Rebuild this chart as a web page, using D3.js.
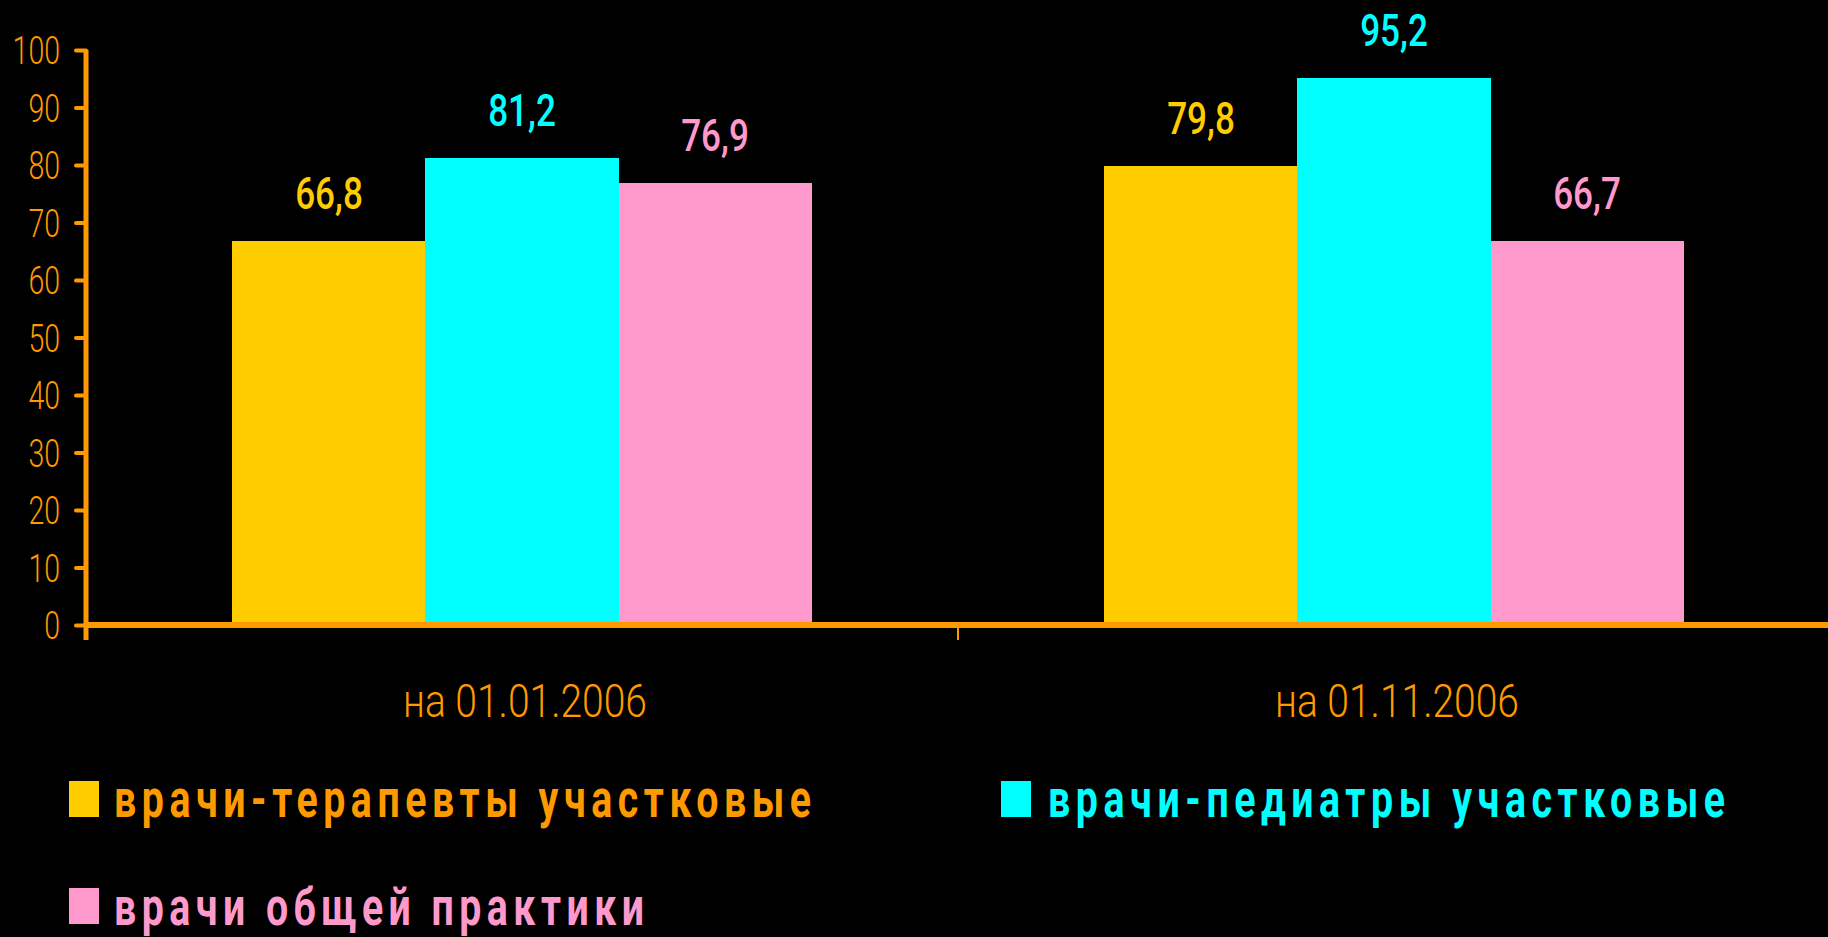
<!DOCTYPE html>
<html>
<head>
<meta charset="utf-8">
<script src="https://cdn.jsdelivr.net/npm/d3@7"></script>
<style>
  html, body { margin: 0; padding: 0; background: #000; }
  svg { display: block; }
</style>
</head>
<body>
<svg id="chart" width="1828" height="937"></svg>
<script>
// ---- data ----
const categories = ["на 01.01.2006", "на 01.11.2006"];
const seriesNames = ["врачи-терапевты участковые", "врачи-педиатры участковые", "врачи общей практики"];
const therapists = [66.8, 79.8];
const pediatricians = [81.2, 95.2];
const generalPractice = [76.9, 66.7];
const yTicks = [0, 10, 20, 30, 40, 50, 60, 70, 80, 90, 100];

// ---- styles ----
const barColors = ["#FFCC00", "#00FFFF", "#FF99CC"];
const legendTextColors = ["#FF9900", "#00FFFF", "#FF99CC"];
const axisColor = "#FF9900";

const seriesValues = [therapists, pediatricians, generalPractice];
const rows = [];
categories.forEach((c, ci) => {
  seriesNames.forEach((s, si) => rows.push({ cat: c, series: s, si, value: seriesValues[si][ci] }));
});

const svg = d3.select("#chart");
svg.append("rect").attr("width", 1828).attr("height", 937).attr("fill", "#000");

const y = d3.scaleLinear().domain([0, 100]).range([625, 50]);
const x = d3.scaleBand().domain(categories).range([86, 1830]).paddingInner(0).paddingOuter(0);
const x1 = d3.scaleBand().domain(seriesNames).range([0, x.bandwidth()]).paddingInner(0).paddingOuter(0.759);

const fmt = d3.formatLocale({ decimal: ",", thousands: " ", grouping: [3], currency: ["", ""] }).format(".1f");

function condense(sel, k) {
  sel.each(function () {
    const w = this.getComputedTextLength();
    this.setAttribute("textLength", w * k);
    this.setAttribute("lengthAdjust", "spacingAndGlyphs");
  });
}

// bars
svg.append("g").attr("shape-rendering", "crispEdges").selectAll("rect").data(rows).join("rect")
  .attr("x", d => x(d.cat) + x1(d.series))
  .attr("width", x1.bandwidth() + 0.5)
  .attr("y", d => y(d.value))
  .attr("height", d => y(0) - y(d.value))
  .attr("fill", d => barColors[d.si]);

// value labels
const vl = svg.append("g").selectAll("text").data(rows).join("text")
  .attr("x", d => x(d.cat) + x1(d.series) + x1.bandwidth() / 2)
  .attr("y", d => y(d.value) - 32)
  .attr("text-anchor", "middle")
  .attr("font-family", "Roboto, 'Liberation Sans Narrow', sans-serif")
  .attr("font-weight", 500)
  .attr("font-size", 45)
  .attr("fill", d => barColors[d.si])
  .text(d => fmt(d.value));
condense(vl, 0.78);

// y axis
const yAxis = d3.axisLeft(y).tickValues(yTicks).tickSize(10).tickPadding(16).tickFormat(d3.format("d"));
const ya = svg.append("g").attr("transform", "translate(86,0)").call(yAxis);
ya.select(".domain").remove();
ya.selectAll(".tick line").attr("stroke", axisColor).attr("stroke-width", 4).attr("stroke-linecap", "round");
ya.selectAll(".tick text")
  .attr("fill", axisColor)
  .attr("font-family", "Roboto, 'Liberation Sans Narrow', sans-serif")
  .attr("font-weight", 300)
  .attr("font-size", 38)
  .attr("dy", "0.36em");
condense(ya.selectAll(".tick text"), 0.75);
svg.append("line")
  .attr("x1", 86).attr("x2", 86)
  .attr("y1", y(100)).attr("y2", y(0) + 15)
  .attr("stroke", axisColor).attr("stroke-width", 5);

// x axis
const boundaries = categories.map(c => x(c)).concat([x.range()[1]]);
svg.append("g").selectAll("line").data(boundaries).join("line")
  .attr("x1", d => d).attr("x2", d => d)
  .attr("y1", y(0)).attr("y2", y(0) + 15)
  .attr("stroke", axisColor).attr("stroke-width", 2);
svg.append("line")
  .attr("x1", 86).attr("x2", 1828)
  .attr("y1", y(0)).attr("y2", y(0))
  .attr("stroke", axisColor).attr("stroke-width", 6);

// category labels
const cl = svg.append("g").selectAll("text").data(categories).join("text")
  .attr("x", d => x(d) + x.bandwidth() / 2 + 3)
  .attr("y", 717)
  .attr("text-anchor", "middle")
  .attr("font-family", "Roboto, 'Liberation Sans Narrow', sans-serif")
  .attr("font-weight", 300)
  .attr("font-size", 46)
  .attr("fill", axisColor)
  .text(d => d);
cl.attr("textLength", 244).attr("lengthAdjust", "spacingAndGlyphs");

// legend
const legendPos = [
  { sx: 69, sy: 781, tx: 114, ty: 817, tw: 697 },
  { sx: 1001, sy: 781, tx: 1048, ty: 817, tw: 677 },
  { sx: 69, sy: 888, tx: 114, ty: 925, tw: 530 }
];
const glyphScale = 0.77;
const lg = svg.append("g").selectAll("g").data(seriesNames).join("g");
lg.append("rect")
  .attr("x", (d, i) => legendPos[i].sx)
  .attr("y", (d, i) => legendPos[i].sy)
  .attr("width", 30).attr("height", 36)
  .attr("fill", (d, i) => barColors[i]);
lg.append("text")
  .attr("transform", (d, i) => `translate(${legendPos[i].tx},${legendPos[i].ty}) scale(${glyphScale},1)`)
  .attr("font-family", "Roboto, 'Liberation Sans Narrow', sans-serif")
  .attr("font-weight", "bold")
  .attr("font-size", 51)
  .attr("fill", (d, i) => legendTextColors[i])
  .attr("textLength", (d, i) => legendPos[i].tw / glyphScale)
  .attr("lengthAdjust", "spacing")
  .text(d => d);
</script>
</body>
</html>
